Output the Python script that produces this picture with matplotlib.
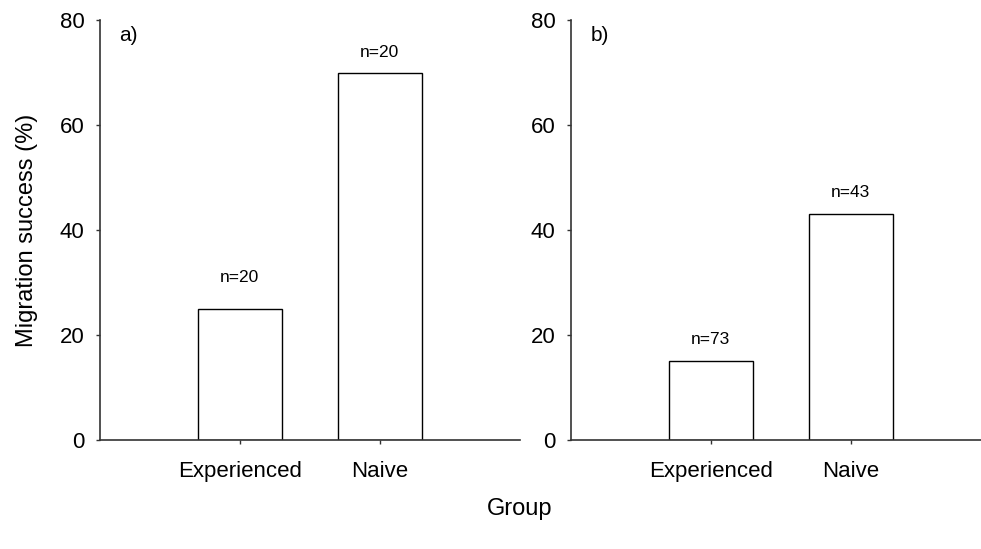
import matplotlib
matplotlib.use("Agg")
import matplotlib.pyplot as plt

plt.rcParams['font.family'] = ['Liberation Sans', 'DejaVu Sans']

groups = ['Experienced', 'Naive']
success_a = [25, 70]
success_b = [15, 43]
n_a = ['n=20', 'n=20']
n_b = ['n=73', 'n=43']
panel_labels = ['a)', 'b)']
yticks = [0, 20, 40, 60, 80]

fig = plt.figure(figsize=(9.81, 5.49), dpi=100)
ax_a = fig.add_axes([0.1019, 0.1985, 0.428, 0.765])
ax_b = fig.add_axes([0.582, 0.1985, 0.428, 0.765])

# label gap above bar, in points
offsets = {'a)': [17, 9], 'b)': [10, 10]}

for ax, vals, ns, lab in [(ax_a, success_a, n_a, panel_labels[0]),
                          (ax_b, success_b, n_b, panel_labels[1])]:
    xs = list(range(len(groups)))
    ax.bar(xs, vals, width=0.6, color='white', edgecolor='black', linewidth=1.0)
    for x, v, n, off in zip(xs, vals, ns, offsets[lab]):
        ax.annotate(n, (x, v), xytext=(0, off), textcoords='offset points',
                    ha='center', va='bottom', fontsize=12.5)
    ax.set_xlim(-1, 2)
    ax.set_ylim(0, 80)
    ax.set_yticks(yticks)
    ax.set_xticks(xs)
    ax.set_xticklabels(groups)
    ax.spines['top'].set_visible(False)
    ax.spines['right'].set_visible(False)
    for s in ['left', 'bottom']:
        ax.spines[s].set_linewidth(1.2)
        ax.spines[s].set_color('#333333')
    ax.tick_params(direction='out', length=3, width=1, color='#333333',
                   labelsize=16)
    ax.tick_params(axis='y', pad=8)
    ax.tick_params(axis='x', pad=12)
    ax.text(-0.86, 77, lab, fontsize=15, ha='left', va='center')

ax_a.set_ylabel('Migration success (%)', fontsize=17, labelpad=16)
fig.text(0.53, 0.073, 'Group', fontsize=17, ha='center', va='center')

fig.savefig('out.png', dpi=100)
